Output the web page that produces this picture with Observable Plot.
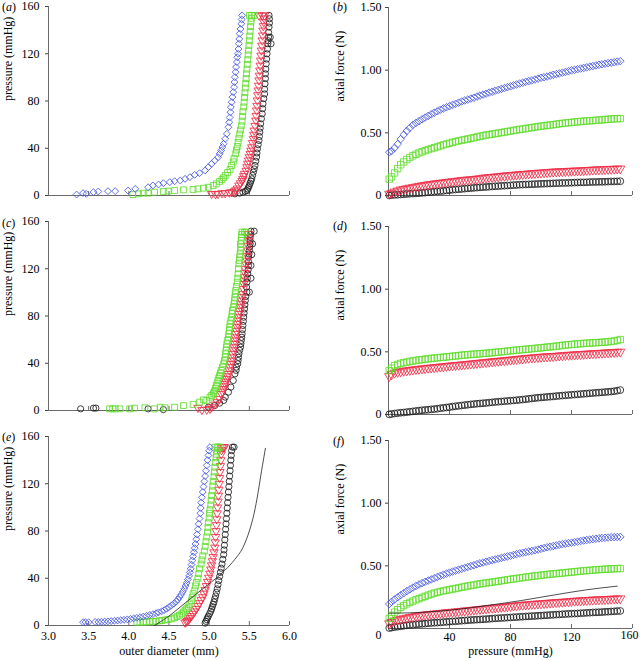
<!DOCTYPE html>
<html><head><meta charset="utf-8">
<script src="https://cdn.jsdelivr.net/npm/d3@7"></script>
<script src="https://cdn.jsdelivr.net/npm/@observablehq/plot@0.6"></script>
<style>
body{margin:0;background:#fff;}
#fig{position:relative;width:640px;height:661px;font-family:"Liberation Serif","Times New Roman","DejaVu Serif",serif;color:#000;}
.panel{position:absolute;width:320px;}
.lab{position:absolute;font-size:12px;line-height:1;transform:translateY(-50%);white-space:nowrap;}
</style></head><body><div id="fig"></div><script>
// ---------- tick values ----------
const yTicksLeft = [0, 40, 80, 120, 160];
const xTicksLeft = [3.0, 3.5, 4.0, 4.5, 5.0, 5.5, 6.0];
const yTicksRight = [0, 0.5, 1.0, 1.5];
const xTicksRight = [0, 40, 80, 120, 160];
const panelLetters = ["a", "b", "c", "d", "e", "f"];

// ---------- panel (a): [outer diameter mm, pressure mmHg] ----------
const aBlack = [[5.32,1.4],[5.38,2],[5.42,2.8],[5.45,3.5],[5.47,4.2],[5.48,5.5],[5.49,7],[5.50,8.5],[5.51,10.4],[5.52,12.2],[5.53,14.1],[5.54,17],[5.55,19.8],[5.56,22.5],[5.57,25.4],[5.58,29],[5.59,32.5],[5.595,36],[5.60,39.5],[5.61,43],[5.62,46.6],[5.625,50],[5.63,53.7],[5.635,57],[5.64,60.7],[5.65,65],[5.66,69.2],[5.665,73.5],[5.67,77.6],[5.68,82],[5.69,86],[5.69,90],[5.695,94.6],[5.70,99],[5.70,103],[5.705,107],[5.71,111.5],[5.715,115.5],[5.72,120],[5.725,124],[5.73,128.5],[5.77,128.5],[5.735,131],[5.74,134.1],[5.76,134],[5.74,138],[5.745,142.6],[5.75,146],[5.75,149.6],[5.745,152.5]];
const aRed = [[5.03,1.4],[5.08,1.2],[5.11,1.4],[5.16,2],[5.20,2],[5.25,2.5],[5.28,2.8],[5.31,3.5],[5.33,4.5],[5.35,6],[5.37,8.5],[5.39,10.4],[5.41,12.5],[5.42,14.1],[5.43,16.5],[5.44,18.4],[5.46,21],[5.47,24],[5.48,27],[5.49,29.7],[5.50,32.5],[5.51,35.3],[5.52,38],[5.53,40.9],[5.54,44.5],[5.55,48],[5.555,51.5],[5.56,55],[5.57,59],[5.58,63.5],[5.585,67.5],[5.59,72],[5.595,76],[5.60,80.5],[5.605,85],[5.61,89],[5.615,93],[5.62,97.5],[5.625,101.5],[5.63,105.9],[5.635,110],[5.64,114.3],[5.645,118.5],[5.65,122.8],[5.655,127],[5.66,131.3],[5.665,135.5],[5.67,139.7],[5.675,143.5],[5.68,146.8],[5.685,150],[5.69,152.5],[5.62,152.5],[5.66,152.5]];
const aGreen = [[4.05,0.8],[4.12,1.4],[4.18,2],[4.24,2],[4.32,2.8],[4.43,3.4],[4.49,3.7],[4.57,4.2],[4.68,4.8],[4.80,5.1],[4.86,5.6],[4.93,6.2],[4.99,7],[5.05,8.5],[5.09,9.9],[5.13,11.9],[5.16,13.5],[5.18,15],[5.20,17],[5.23,19.5],[5.26,22],[5.28,25.4],[5.30,28.5],[5.31,31.5],[5.33,35.3],[5.34,38.5],[5.35,41.5],[5.36,45],[5.37,48.5],[5.38,52],[5.39,55.5],[5.40,59],[5.41,63],[5.415,67],[5.42,71],[5.43,75],[5.435,79],[5.44,83],[5.445,87],[5.45,91],[5.455,95],[5.46,99],[5.465,103],[5.47,107],[5.475,111],[5.48,115],[5.485,119],[5.49,123],[5.495,127],[5.50,131],[5.505,135],[5.51,139],[5.515,143],[5.52,147],[5.525,150],[5.53,152.5],[5.50,152.5],[5.56,152.5]];
const aBlue = [[3.35,0.8],[3.43,2],[3.47,1.4],[3.56,2.8],[3.62,3.4],[3.74,3.7],[3.83,3.7],[3.99,4.2],[4.08,5.6],[4.24,7],[4.30,8.5],[4.37,9.3],[4.43,10.4],[4.51,11.3],[4.57,12.1],[4.64,12.7],[4.70,14.1],[4.76,15.5],[4.82,17.5],[4.88,18.9],[4.95,21.2],[4.99,24],[5.03,26.8],[5.07,29.6],[5.11,32.4],[5.13,35.3],[5.15,38.1],[5.165,41],[5.18,43.8],[5.20,48],[5.22,52.2],[5.24,57.8],[5.25,62],[5.255,66],[5.265,70.5],[5.27,74.8],[5.28,79],[5.29,83.3],[5.30,87.5],[5.31,91.7],[5.315,96],[5.32,100.2],[5.33,104.5],[5.335,108.7],[5.345,113],[5.35,117],[5.36,120],[5.365,124],[5.37,128.5],[5.375,132.5],[5.38,137],[5.39,141],[5.40,145.4],[5.405,149],[5.41,152.5]];

// ---------- panel (c) ----------
const cBlack = [[3.40,1.4],[3.56,2],[3.59,2],[4.24,1.4],[4.43,0.8],[4.99,2.8],[5.07,4.2],[5.13,6.2],[5.18,8.5],[5.20,11.3],[5.24,15.5],[5.27,19.8],[5.30,25.4],[5.32,31],[5.335,34],[5.34,36.7],[5.355,39.5],[5.36,42.3],[5.365,45],[5.37,48],[5.38,51],[5.39,53.6],[5.395,56.5],[5.40,59.3],[5.405,62],[5.41,64.9],[5.415,68.5],[5.42,72],[5.425,75.5],[5.43,79],[5.435,82.5],[5.44,86],[5.445,89.5],[5.45,93.1],[5.455,96.5],[5.47,100.2],[5.465,104.5],[5.47,108.6],[5.475,112],[5.48,115.7],[5.485,119],[5.49,122.8],[5.49,126],[5.49,129.8],[5.495,132.5],[5.50,135.5],[5.505,138.5],[5.51,141.1],[5.51,144],[5.51,146.7],[5.515,149],[5.52,151.8],[5.56,151.8],[5.54,141.1],[5.53,132],[5.52,122.8],[5.52,112],[5.50,100.2]];
const cRed = [[4.86,2.3],[4.91,0.6],[4.97,0.8],[5.01,1.4],[5.03,2.8],[5.07,5.1],[5.10,7.1],[5.13,9.9],[5.15,14.1],[5.165,16],[5.18,18.3],[5.19,20.5],[5.20,22.6],[5.21,24.5],[5.22,26.8],[5.23,29],[5.24,31],[5.25,34],[5.26,36.7],[5.27,39.5],[5.28,42.3],[5.285,45],[5.29,48],[5.30,51],[5.31,53.6],[5.315,56.5],[5.32,59.3],[5.325,62],[5.33,64.9],[5.34,67.5],[5.35,70.6],[5.355,73.5],[5.36,76.2],[5.365,79],[5.37,81.8],[5.38,84.5],[5.39,87.5],[5.395,90],[5.40,93.1],[5.41,96],[5.42,98.8],[5.425,103],[5.43,107.2],[5.435,110],[5.44,112.9],[5.445,116.5],[5.45,119.9],[5.46,123.5],[5.47,127],[5.475,131],[5.48,135.5],[5.485,139.5],[5.49,143.9],[5.49,146.5],[5.49,149.6]];
const cGreen = [[3.76,1.4],[3.80,1.4],[3.83,1.4],[3.89,1.4],[4.01,1.4],[4.07,2],[4.20,2.3],[4.32,1.4],[4.39,2.8],[4.45,2.3],[4.57,2.8],[4.68,4.2],[4.80,5.1],[4.88,7.1],[4.93,9],[4.97,8.5],[5.01,11.3],[5.03,12.7],[5.05,14.1],[5.06,15.5],[5.07,16.9],[5.08,19],[5.09,21.2],[5.10,23.3],[5.11,25.4],[5.12,27.5],[5.13,29.6],[5.14,31.8],[5.15,33.9],[5.165,36.7],[5.18,39.5],[5.19,42.3],[5.20,45.2],[5.205,48],[5.21,50.8],[5.215,53.6],[5.22,56.4],[5.23,59.3],[5.24,62.1],[5.245,65],[5.25,67.7],[5.255,70.5],[5.26,73.4],[5.27,76.2],[5.28,79],[5.285,82],[5.29,84.7],[5.30,87.5],[5.31,90.3],[5.315,93],[5.32,95.9],[5.325,98.8],[5.33,101.6],[5.34,105],[5.35,108.6],[5.355,112],[5.36,115.7],[5.365,120],[5.37,124.2],[5.375,127],[5.38,129.8],[5.385,132.5],[5.39,135.5],[5.395,138.3],[5.39,141.1],[5.40,144],[5.40,146.7],[5.405,149],[5.41,151],[5.44,151],[5.46,151]];

// ---------- panel (e) ----------
const eBlack = [[4.95,2],[4.96,3.5],[4.97,5],[4.98,6.5],[4.99,8],[5.005,10],[5.02,12],[5.03,14],[5.04,16],[5.05,18],[5.06,20],[5.07,22.5],[5.08,25],[5.09,28],[5.10,31],[5.11,34.5],[5.12,38],[5.13,41.5],[5.14,45],[5.15,48.5],[5.16,52],[5.17,56],[5.18,60],[5.185,64],[5.19,68],[5.195,72.5],[5.20,77],[5.205,81.5],[5.21,86],[5.215,90.5],[5.22,95],[5.225,99.5],[5.23,104],[5.235,108.5],[5.24,113],[5.245,117.5],[5.25,122],[5.255,126.5],[5.26,131],[5.265,135.5],[5.27,140],[5.275,144],[5.28,148],[5.29,151],[5.31,151]];
const eRed = [[4.70,2.5],[4.72,3.2],[4.73,4],[4.745,5],[4.76,6.5],[4.78,8],[4.80,10],[4.82,12],[4.84,14],[4.86,16.5],[4.88,19],[4.90,21.5],[4.92,24],[4.935,27],[4.95,30],[4.965,33.5],[4.98,37],[4.995,40.5],[5.01,44],[5.02,47.5],[5.03,51],[5.04,54.5],[5.05,58],[5.06,62],[5.07,66],[5.075,70.5],[5.08,75],[5.085,80],[5.09,85],[5.095,90],[5.10,95],[5.105,100],[5.11,105],[5.115,110],[5.12,115],[5.125,120],[5.13,125],[5.135,130],[5.14,135],[5.145,140],[5.15,145],[5.155,148.5],[5.16,151],[5.18,151],[5.19,151]];
const eGreen = [[4.10,2.8],[4.14,2.8],[4.18,2.9],[4.22,3],[4.26,3.2],[4.30,3.4],[4.34,3.6],[4.38,3.9],[4.41,4.2],[4.45,4.7],[4.49,5.1],[4.53,5.6],[4.57,6.5],[4.60,7.5],[4.63,8.6],[4.66,9.9],[4.68,11.5],[4.70,13],[4.72,14.2],[4.74,15.5],[4.76,18],[4.78,21],[4.79,24],[4.80,27],[4.82,30],[4.83,33.5],[4.84,36.5],[4.86,40],[4.87,44],[4.88,48],[4.90,52],[4.91,55.5],[4.92,59],[4.94,63],[4.95,67],[4.96,71],[4.97,75],[4.98,79],[4.985,83],[4.99,87],[5.00,91],[5.005,95],[5.01,98],[5.02,102],[5.025,106],[5.03,110],[5.04,114],[5.045,118],[5.05,122],[5.06,126],[5.065,130],[5.07,134],[5.08,138],[5.085,142],[5.09,145],[5.10,148],[5.10,151],[5.07,151],[5.12,151],[5.14,151]];
const eBlue = [[3.43,2.8],[3.46,2.8],[3.50,2.8],[3.58,3],[3.62,3],[3.66,3.2],[3.70,3.3],[3.74,3.5],[3.78,3.7],[3.82,4],[3.86,4.2],[3.90,4.5],[3.94,4.8],[3.98,5.2],[4.02,5.6],[4.06,6],[4.10,6.5],[4.14,7],[4.18,7.6],[4.22,8.2],[4.26,8.9],[4.30,9.6],[4.34,10.4],[4.37,11.2],[4.41,12.1],[4.44,13],[4.47,14.2],[4.50,15.5],[4.53,17],[4.56,18.5],[4.59,20.2],[4.61,22],[4.63,24],[4.65,26],[4.67,28.5],[4.69,31],[4.705,33.5],[4.72,36],[4.735,39],[4.75,42],[4.76,45],[4.77,48],[4.78,51.5],[4.79,55],[4.80,58.5],[4.81,62],[4.82,65.5],[4.83,69],[4.84,73],[4.85,77],[4.86,81.5],[4.87,86],[4.88,90.5],[4.89,95],[4.895,99.5],[4.90,104],[4.91,108.5],[4.92,113],[4.93,117.5],[4.94,122],[4.95,126.5],[4.96,131],[4.97,135.5],[4.98,140],[4.99,144],[5.00,148],[5.01,151]];
const eModel = [[4.32,0],[4.50,8],[4.70,19],[4.90,30],[5.05,38],[5.20,47],[5.32,56],[5.42,66],[5.50,80],[5.56,95],[5.61,113],[5.65,130],[5.68,142],[5.70,150]];

// ---------- right panels: pressure (mmHg) grid and axial force (N) ----------
const pGrid = [0.5,
  2,4,6,8,10,12,14,16,18,20,
  22,24,26,28,30,32,34,36,38,40,
  42,44,46,48,50,52,54,56,58,60,
  62,64,66,68,70,72,74,76,78,80,
  82,84,86,88,90,92,94,96,98,100,
  102,104,106,108,110,112,114,116,118,120,
  122,124,126,128,130,132,134,136,138,140,
  142,144,146,148,150,152];
const bBlue = [0.345,
  0.355,0.38,0.41,0.45,0.485,0.515,0.54,0.563,0.579,0.593,
  0.608,0.622,0.635,0.648,0.660,0.672,0.684,0.695,0.704,0.713,
  0.723,0.732,0.741,0.750,0.758,0.765,0.773,0.780,0.789,0.797,
  0.805,0.813,0.821,0.828,0.836,0.843,0.850,0.857,0.864,0.871,
  0.879,0.886,0.893,0.900,0.907,0.913,0.919,0.925,0.932,0.939,
  0.944,0.949,0.956,0.963,0.969,0.974,0.980,0.985,0.992,0.998,
  1.003,1.008,1.013,1.018,1.023,1.028,1.033,1.038,1.043,1.047,
  1.052,1.056,1.060,1.064,1.068,1.072];
const bGreen = [0.13,
  0.148,0.18,0.215,0.245,0.268,0.287,0.303,0.317,0.329,0.340,
  0.349,0.358,0.366,0.374,0.381,0.388,0.396,0.404,0.411,0.417,
  0.424,0.430,0.436,0.441,0.446,0.451,0.456,0.461,0.467,0.472,
  0.477,0.482,0.486,0.490,0.494,0.498,0.502,0.506,0.510,0.514,
  0.519,0.523,0.527,0.530,0.534,0.538,0.542,0.546,0.550,0.553,
  0.556,0.559,0.562,0.565,0.569,0.572,0.575,0.578,0.581,0.583,
  0.586,0.588,0.591,0.593,0.595,0.596,0.598,0.600,0.602,0.604,
  0.606,0.608,0.610,0.612,0.613,0.614];
const bRed = [0.012,
  0.02,0.030,0.038,0.046,0.051,0.056,0.061,0.065,0.070,0.075,
  0.079,0.083,0.087,0.090,0.094,0.097,0.100,0.103,0.106,0.109,
  0.112,0.115,0.118,0.121,0.124,0.126,0.128,0.130,0.133,0.136,
  0.140,0.143,0.145,0.147,0.150,0.152,0.155,0.157,0.160,0.162,
  0.164,0.166,0.168,0.170,0.172,0.174,0.176,0.178,0.180,0.181,
  0.183,0.185,0.187,0.189,0.190,0.191,0.192,0.193,0.195,0.196,
  0.197,0.198,0.199,0.200,0.202,0.203,0.205,0.206,0.207,0.208,
  0.209,0.210,0.211,0.212,0.213,0.214];
const bBlack = [0.001,
  0.003,0.005,0.006,0.008,0.010,0.012,0.014,0.016,0.017,0.019,
  0.021,0.023,0.026,0.028,0.031,0.033,0.035,0.037,0.040,0.043,
  0.046,0.048,0.050,0.052,0.055,0.057,0.059,0.061,0.063,0.065,
  0.067,0.068,0.070,0.072,0.074,0.075,0.077,0.078,0.080,0.081,
  0.083,0.084,0.086,0.087,0.088,0.089,0.090,0.091,0.092,0.093,
  0.094,0.095,0.096,0.097,0.098,0.099,0.100,0.100,0.101,0.102,
  0.103,0.104,0.105,0.105,0.106,0.107,0.108,0.108,0.109,0.109,
  0.110,0.111,0.112,0.112,0.113,0.114];
const dGreen = [0.35,
  0.37,0.39,0.400,0.408,0.413,0.418,0.423,0.427,0.431,0.435,
  0.438,0.441,0.444,0.447,0.450,0.452,0.455,0.457,0.460,0.462,
  0.465,0.467,0.470,0.473,0.475,0.477,0.479,0.481,0.483,0.485,
  0.487,0.488,0.491,0.493,0.496,0.498,0.501,0.503,0.506,0.508,
  0.511,0.513,0.516,0.518,0.520,0.522,0.525,0.527,0.530,0.532,
  0.535,0.537,0.540,0.542,0.545,0.548,0.551,0.554,0.557,0.559,
  0.561,0.563,0.565,0.567,0.569,0.570,0.572,0.573,0.575,0.576,
  0.578,0.580,0.583,0.586,0.591,0.598];
const dRed = [0.305,
  0.32,0.332,0.338,0.343,0.347,0.351,0.354,0.357,0.360,0.363,
  0.366,0.368,0.371,0.373,0.376,0.378,0.381,0.383,0.386,0.388,
  0.391,0.393,0.395,0.397,0.400,0.402,0.405,0.407,0.410,0.412,
  0.415,0.417,0.420,0.422,0.425,0.427,0.429,0.431,0.434,0.436,
  0.439,0.441,0.444,0.446,0.449,0.451,0.453,0.455,0.457,0.459,
  0.461,0.462,0.464,0.465,0.467,0.469,0.471,0.473,0.475,0.476,
  0.478,0.479,0.481,0.482,0.484,0.485,0.487,0.488,0.490,0.491,
  0.493,0.494,0.496,0.497,0.499,0.500];
const dBlack = [0.001,
  0.004,0.008,0.011,0.014,0.016,0.019,0.022,0.025,0.028,0.031,
  0.034,0.036,0.038,0.041,0.043,0.046,0.050,0.053,0.056,0.059,
  0.063,0.066,0.069,0.072,0.075,0.078,0.081,0.083,0.086,0.088,
  0.090,0.092,0.095,0.097,0.100,0.102,0.104,0.106,0.108,0.110,
  0.112,0.114,0.117,0.119,0.122,0.125,0.128,0.131,0.134,0.136,
  0.138,0.140,0.142,0.144,0.147,0.149,0.151,0.153,0.155,0.157,
  0.159,0.161,0.163,0.165,0.167,0.169,0.171,0.173,0.175,0.177,
  0.179,0.181,0.183,0.186,0.190,0.195];
const fBlue = [0.195,
  0.212,0.232,0.249,0.266,0.282,0.298,0.312,0.326,0.339,0.351,
  0.362,0.372,0.382,0.391,0.401,0.411,0.420,0.429,0.438,0.446,
  0.454,0.462,0.469,0.476,0.484,0.491,0.498,0.505,0.513,0.520,
  0.527,0.533,0.539,0.545,0.551,0.557,0.563,0.569,0.575,0.581,
  0.587,0.593,0.599,0.604,0.609,0.614,0.619,0.624,0.630,0.636,
  0.642,0.648,0.653,0.658,0.663,0.668,0.673,0.677,0.681,0.685,
  0.689,0.693,0.698,0.702,0.706,0.709,0.713,0.716,0.719,0.722,
  0.724,0.726,0.728,0.729,0.730,0.731];
const fGreen = [0.08,
  0.105,0.13,0.150,0.168,0.183,0.197,0.208,0.219,0.229,0.238,
  0.248,0.257,0.266,0.274,0.282,0.289,0.295,0.300,0.305,0.310,
  0.315,0.319,0.324,0.329,0.334,0.339,0.343,0.347,0.352,0.356,
  0.360,0.363,0.367,0.370,0.374,0.377,0.381,0.385,0.389,0.392,
  0.396,0.399,0.403,0.406,0.410,0.413,0.416,0.419,0.422,0.425,
  0.428,0.431,0.434,0.436,0.438,0.440,0.443,0.445,0.448,0.450,
  0.453,0.455,0.458,0.460,0.462,0.464,0.466,0.468,0.470,0.471,
  0.473,0.474,0.476,0.477,0.478,0.479];
const fRed = [0.04,
  0.05,0.062,0.069,0.075,0.080,0.085,0.090,0.094,0.099,0.103,
  0.107,0.110,0.113,0.115,0.118,0.120,0.123,0.125,0.128,0.130,
  0.132,0.134,0.137,0.139,0.142,0.144,0.147,0.149,0.152,0.154,
  0.157,0.159,0.162,0.164,0.166,0.168,0.171,0.173,0.176,0.178,
  0.181,0.183,0.186,0.188,0.190,0.192,0.194,0.196,0.198,0.199,
  0.201,0.203,0.205,0.207,0.209,0.210,0.212,0.214,0.216,0.218,
  0.220,0.221,0.223,0.224,0.226,0.227,0.229,0.230,0.231,0.232,
  0.233,0.234,0.236,0.237,0.238,0.239];
const fBlack = [0.004,
  0.007,0.011,0.015,0.018,0.022,0.025,0.028,0.030,0.033,0.035,
  0.037,0.039,0.042,0.044,0.046,0.047,0.049,0.051,0.053,0.055,
  0.057,0.058,0.060,0.062,0.064,0.066,0.068,0.069,0.071,0.072,
  0.074,0.075,0.077,0.079,0.081,0.082,0.084,0.085,0.087,0.088,
  0.090,0.091,0.093,0.094,0.096,0.097,0.099,0.100,0.102,0.103,
  0.105,0.106,0.108,0.109,0.111,0.112,0.114,0.115,0.117,0.118,
  0.119,0.120,0.122,0.123,0.125,0.126,0.128,0.129,0.130,0.131,
  0.133,0.134,0.136,0.137,0.139,0.140];
const fModelP = [0, 14, 43, 65, 87, 108, 130, 150];
const fModelF = [0.122, 0.125, 0.149, 0.184, 0.223, 0.266, 0.309, 0.338];

// ---------- styling ----------
const COL = {blue: "#4657e0", green: "#5fdd2a", red: "#ee2d47", black: "#1e1e1e"};
const SYM = {blue: "diamond2", green: "square", red: "triangle", black: "circle"};
const FONTSTYLE = {fontFamily: '"Liberation Serif","Times New Roman","DejaVu Serif",serif', fontSize: "12px", background: "transparent", color: "#000", overflow: "visible"};
const fig = document.getElementById("fig");

function seriesDots(data, key, x, y, big) {
  const r = (key === "green" ? 3.3 : 3.1) + (big ? 0.3 : 0);
  return Plot.dot(data, {x, y, symbol: SYM[key], r, stroke: COL[key], fill: "none",
    strokeWidth: 0.85, rotate: key === "red" ? 180 : 0});
}

function place(svg, left, top) {
  const d = document.createElement("div");
  d.className = "panel";
  d.style.left = left + "px"; d.style.top = top + "px";
  d.appendChild(svg);
  fig.appendChild(d);
}
function letter(ch, left, top) {
  const d = document.createElement("div");
  d.className = "lab";
  d.style.left = left + "px"; d.style.top = top + "px";
  d.innerHTML = "(<i>" + ch + "</i>)";
  fig.appendChild(d);
}

function leftPanel(series, model, opt) {
  const frameH = opt.h - opt.mt - opt.mb;
  const marks = [
    Plot.ruleY([0], {stroke: "#444", strokeWidth: 0.8}),
    Plot.ruleX([3], {stroke: "#444", strokeWidth: 0.8}),
    Plot.ruleX(xTicksLeft.slice(1), {stroke: "#444", strokeWidth: 0.8, insetTop: frameH - 4}),
    Plot.axisY(yTicksLeft, {tickSize: 3, tickPadding: 6, label: null, stroke: "#444"}),
    Plot.text(["pressure (mmHg)"], {frameAnchor: "left", dx: -40, rotate: -90})
  ];
  for (const [key, data] of series) marks.push(seriesDots(data, key, d => d[0], d => d[1], false));
  if (model) marks.push(Plot.line(model, {x: d => d[0], y: d => d[1], curve: "monotone-x", stroke: "#222", strokeWidth: 0.8}));
  if (opt.xlabels) {
    marks.push(Plot.axisX(xTicksLeft, {tickSize: 0, tickPadding: 6, tickFormat: d => d.toFixed(1), label: null}));
    marks.push(Plot.text(["outer diameter (mm)"], {frameAnchor: "bottom", dy: 29}));
  }
  return Plot.plot({
    width: 320, height: opt.h, marginLeft: 48, marginRight: 31, marginTop: opt.mt, marginBottom: opt.mb,
    style: FONTSTYLE,
    x: {domain: [3, 6], axis: null},
    y: {domain: [0, 160], axis: null},
    marks
  });
}

function rightPanel(series, model, opt) {
  const frameH = opt.h - opt.mt - opt.mb;
  const yLabelTicks = opt.xlabels ? yTicksRight.slice(1) : yTicksRight;
  const marks = [
    Plot.ruleY([0], {stroke: "#444", strokeWidth: 0.8}),
    Plot.ruleX([0], {stroke: "#444", strokeWidth: 0.8}),
    Plot.ruleX(xTicksRight.slice(1), {stroke: "#444", strokeWidth: 0.8, insetTop: frameH - 4}),
    Plot.axisY(yLabelTicks, {tickSize: 3, tickPadding: 4, label: null, stroke: "#444", tickFormat: d => d === 0 ? "0" : d.toFixed(2)}),
    Plot.text(["axial force (N)"], {frameAnchor: "left", dx: -48, rotate: -90})
  ];
  for (const [key, vals] of series) {
    const data = pGrid.map((p, i) => [p, vals[i]]);
    marks.push(seriesDots(data, key, d => d[0], d => d[1], true));
  }
  if (model) marks.push(Plot.line(model.p.map((p, i) => [p, model.f[i]]), {x: d => d[0], y: d => d[1], curve: "monotone-x", stroke: "#222", strokeWidth: 0.8}));
  if (opt.xlabels) {
    marks.push(Plot.axisX(xTicksRight.slice(1, 4), {tickSize: 0, tickPadding: 4, label: null}));
    marks.push(Plot.text(xTicksRight.slice(0, 1), {x: d => d, frameAnchor: "bottom", dy: 10, dx: -10, text: d => String(d)}));
    marks.push(Plot.text(xTicksRight.slice(4), {x: d => d, frameAnchor: "bottom", dy: 10, dx: 6, textAnchor: "end", text: d => String(d)}));
    marks.push(Plot.text(["pressure (mmHg)"], {frameAnchor: "bottom", dy: 26}));
  }
  return Plot.plot({
    width: 320, height: opt.h, marginLeft: 68, marginRight: 8, marginTop: opt.mt, marginBottom: opt.mb,
    style: FONTSTYLE,
    x: {domain: [0, 160], axis: null},
    y: {domain: [0, 1.5], axis: null},
    marks
  });
}

// row 1
place(leftPanel([["black", aBlack], ["red", aRed], ["green", aGreen], ["blue", aBlue]], null, {h: 215, mt: 6, mb: 20}), 0, 0);
place(rightPanel([["black", bBlack], ["red", bRed], ["green", bGreen], ["blue", bBlue]], null, {h: 215, mt: 7, mb: 20}), 320, 0);
// row 2
place(leftPanel([["black", cBlack], ["red", cRed], ["green", cGreen]], null, {h: 215, mt: 6, mb: 20}), 0, 215);
place(rightPanel([["black", dBlack], ["red", dRed], ["green", dGreen]], null, {h: 215, mt: 11, mb: 16}), 320, 215);
// row 3
place(leftPanel([["black", eBlack], ["red", eRed], ["green", eGreen], ["blue", eBlue]], eModel, {h: 231, mt: 6, mb: 36, xlabels: true}), 0, 430);
place(rightPanel([["black", fBlack], ["red", fRed], ["green", fGreen], ["blue", fBlue]], {p: fModelP, f: fModelF}, {h: 231, mt: 10, mb: 33, xlabels: true}), 320, 430);

// panel letters
const letterPos = [[2, 7], [333, 7], [2, 223], [333, 226], [2, 437], [333, 441]];
panelLetters.forEach((ch, i) => letter(ch, letterPos[i][0], letterPos[i][1]));
</script></body></html>
